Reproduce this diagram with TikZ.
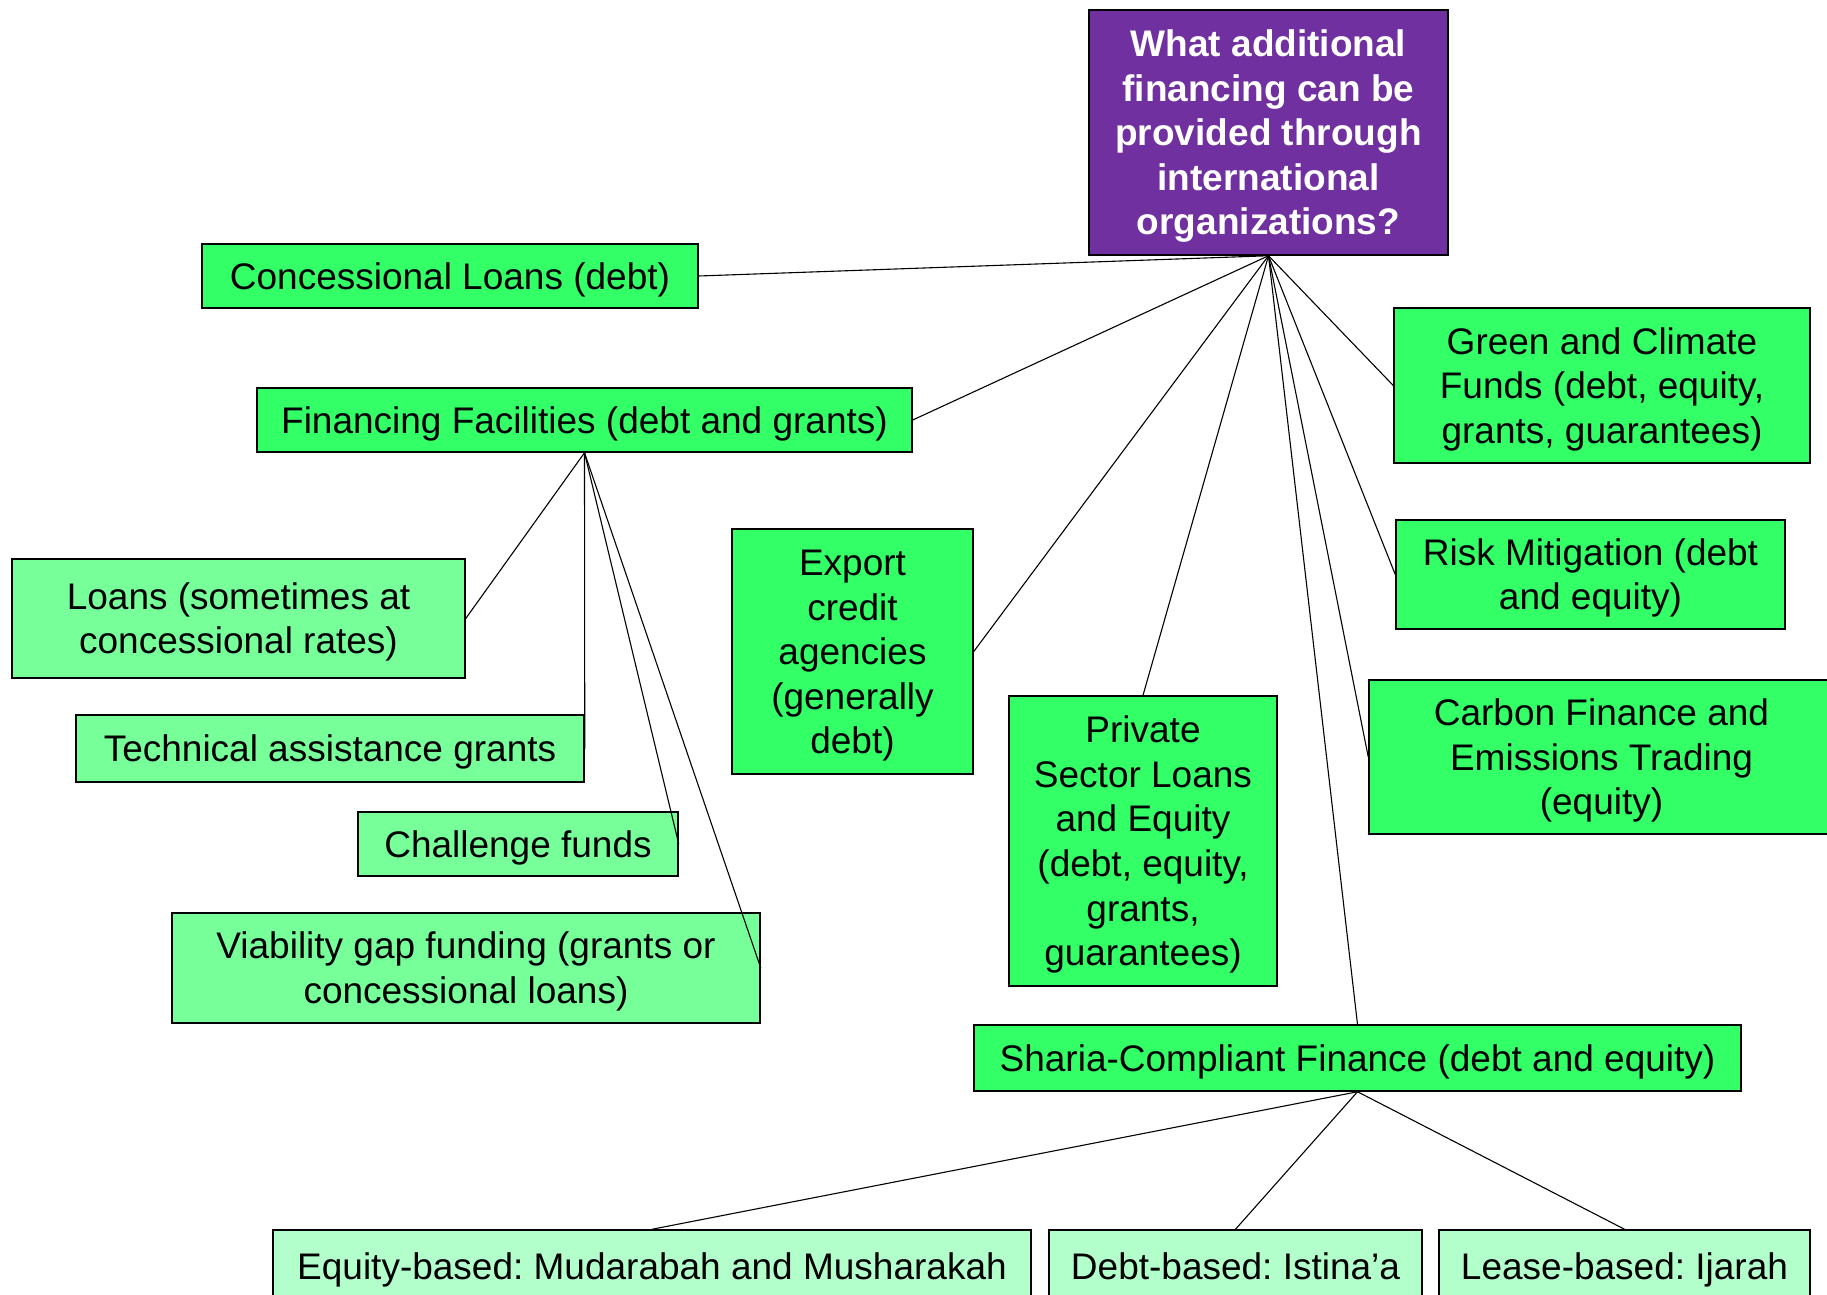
\documentclass[tikz,border=0pt]{standalone}
\usepackage{fontspec}
\setmainfont{Liberation Sans}
\frenchspacing
\definecolor{rootpurple}{RGB}{112,48,160}
\definecolor{maingreen}{RGB}{51,255,102}
\definecolor{subgreen}{RGB}{119,255,153}
\definecolor{palegreen}{RGB}{179,255,204}
% struts with the font's full ascent and descent, so text sits centred like a slide box
\newcommand{\ascstrut}{\rule{0pt}{0.925em}}
\newcommand{\descstrut}{\rule[-0.212em]{0pt}{0.212em}}
\tikzset{
  box/.style={draw=black, line width=0.75pt, inner sep=0pt, align=center,
    font=\fontsize{18.5pt}{22.3pt}\selectfont},
  mainbox/.style={box, fill=maingreen},
  subbox/.style={box, fill=subgreen},
  palebox/.style={box, fill=palegreen},
  rootbox/.style={box, fill=rootpurple, text=white,
    font=\fontsize{18.5pt}{22.3pt}\selectfont\bfseries},
  link/.style={draw=black, line width=0.55pt},
}
% style, name, x1, y1, x2, y2 (pixel corners), text
\newcommand{\boxat}[7]{%
  \node[#1, minimum width={(#5-#3)*0.5pt}, minimum height={(#6-#4)*0.5pt}]
    (#2) at ({(#3+#5)/2},{(#4+#6)/2}) {\ascstrut#7\descstrut};}
\begin{document}
\begin{tikzpicture}[x=0.5pt, y=-0.5pt]
\useasboundingbox (0,0) rectangle (1827,1295);
\clip (0,0) rectangle (1827,1295);
\fill[white] (0,0) rectangle (1827,1295);

% question at the top
\boxat{rootbox}{root}{1089}{10}{1448}{255}
  {What additional\\financing can be\\provided through\\international\\organizations?}

% first-level financing channels
\boxat{mainbox}{conc}{202}{244}{698}{308}{Concessional Loans (debt)}
\boxat{mainbox}{fin}{257}{388}{912}{452}{Financing Facilities (debt and grants)}
\boxat{mainbox}{green}{1394}{308}{1810}{463}
  {Green and Climate\\Funds (debt, equity,\\grants, guarantees)}
\boxat{mainbox}{risk}{1396}{520}{1785}{629}{Risk Mitigation (debt\\and equity)}
\boxat{mainbox}{carbon}{1369}{680}{1834}{834}
  {Carbon Finance and\\Emissions Trading\\(equity)}
\boxat{mainbox}{export}{732}{529}{973}{774}
  {Export\\credit\\agencies\\(generally\\debt)}
\boxat{mainbox}{private}{1009}{696}{1277}{986}
  {Private\\Sector Loans\\and Equity\\(debt, equity,\\grants,\\guarantees)}
\boxat{mainbox}{sharia}{974}{1025}{1741}{1091}
  {Sharia-Compliant Finance (debt and equity)}

% financing facility instruments
\boxat{subbox}{loans}{12}{559}{465}{678}{Loans (sometimes at\\concessional rates)}
\boxat{subbox}{tech}{76}{715}{584}{782}{Technical assistance grants}
\boxat{subbox}{chal}{358}{812}{678}{876}{Challenge funds}
\boxat{subbox}{viab}{172}{913}{760}{1023}
  {Viability gap funding (grants or\\concessional loans)}

% sharia-compliant instruments
\boxat{palebox}{equity}{273}{1230}{1031}{1302}{Equity-based: Mudarabah and Musharakah}
\boxat{palebox}{debt}{1049}{1230}{1422}{1302}{Debt-based: Istina'a}
\boxat{palebox}{lease}{1439}{1230}{1810}{1302}{Lease-based: Ijarah}

% connectors from the question
\foreach \t/\a in {conc/east, fin/east, export/east, private/north,
                   sharia/north, green/west, risk/west, carbon/west}
  \draw[link] (root.south) -- (\t.\a);

% connectors from financing facilities
\foreach \t in {loans, tech, chal, viab}
  \draw[link] (fin.south) -- (\t.east);

% connectors from sharia-compliant finance
\foreach \t in {equity, debt, lease}
  \draw[link] (sharia.south) -- (\t.north);
\end{tikzpicture}
\end{document}
